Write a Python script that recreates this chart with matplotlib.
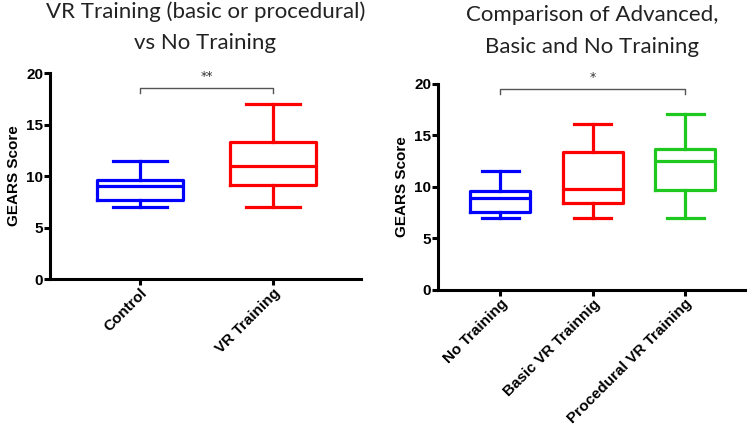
import matplotlib.pyplot as plt

# Left panel: control vs VR training
left_labels = ["Control", "VR Training"]
left_whislo = [7.0, 7.0]
left_q1 = [7.65, 9.15]
left_med = [9.0, 11.0]
left_q3 = [9.65, 13.35]
left_whishi = [11.5, 17.0]
left_colors = ["#0000ff", "#ff0000"]
left_title = ["VR Training (basic or procedural)", "vs No Training"]

# Right panel: no / basic / procedural training
right_labels = ["No Training", "Basic VR Trainnig", "Procedural VR Training"]
right_whislo = [7.0, 7.0, 7.0]
right_q1 = [7.6, 8.4, 9.65]
right_med = [8.95, 9.8, 12.5]
right_q3 = [9.6, 13.35, 13.7]
right_whishi = [11.5, 16.1, 17.1]
right_colors = ["#0000ff", "#ff0000", "#1ec81e"]
right_title = ["Comparison of Advanced,", "Basic and No Training"]

TITLE_FONT = ["Lato", "DejaVu Sans"]
BOLD_FONT = ["Liberation Sans", "DejaVu Sans"]
W, H = 749, 432


def _stats(labels, lo, q1, med, q3, hi):
    return [dict(label=l, whislo=a, q1=b, med=c, q3=d, whishi=e, fliers=[])
            for l, a, b, c, d, e in zip(labels, lo, q1, med, q3, hi)]


def _panel(fig, ax, stats, colors, title, title_y, xlim, bracket, star):
    lw = 2.3
    bp = ax.bxp(stats, positions=range(len(stats)), widths=0.65,
                showfliers=False, patch_artist=False)
    for i, c in enumerate(colors):
        bp["boxes"][i].set(color=c, linewidth=lw)
        bp["medians"][i].set(color=c, linewidth=lw)
        for art in bp["whiskers"][2 * i:2 * i + 2]:
            art.set(color=c, linewidth=lw)
        for art in bp["caps"][2 * i:2 * i + 2]:
            x0, x1 = art.get_xdata()
            mid = (x0 + x1) / 2
            art.set(color=c, linewidth=lw, xdata=[mid - 0.2, mid + 0.2])

    ax.set_xlim(*xlim)
    ax.set_ylim(0, 20)
    ax.set_yticks([0, 5, 10, 15, 20])
    for s in ("top", "right"):
        ax.spines[s].set_visible(False)
    for s in ("left", "bottom"):
        ax.spines[s].set_linewidth(2.2)
    ax.tick_params(width=2.2, length=4, pad=1)
    ax.set_xticklabels([st["label"] for st in stats], rotation=45,
                       ha="right", rotation_mode="anchor",
                       fontfamily=BOLD_FONT, fontweight="bold", fontsize=11)
    for t in ax.get_yticklabels():
        t.set_fontfamily(BOLD_FONT)
        t.set_fontweight("bold")
        t.set_fontsize(11)
    ax.set_ylabel("GEARS Score", fontfamily=BOLD_FONT, fontweight="bold",
                  fontsize=11, labelpad=4)

    # two-line title, centred over the axes, placed by baseline in pixels
    pos = ax.get_position()
    xc = (pos.x0 + pos.x1) / 2
    for line, yb in zip(title, title_y):
        fig.text(xc, 1 - yb / H, line, ha="center", va="baseline",
                 fontfamily=TITLE_FONT, fontsize=16, color="#222222")

    # significance bracket
    xa, xb, yb = bracket
    ax.plot([xa, xa, xb, xb], [yb - 0.45, yb, yb, yb - 0.45],
            color="#555555", linewidth=1.0, clip_on=False)
    ax.text((xa + xb) / 2, yb + 0.5, star, ha="center", va="bottom",
            fontsize=9, color="#333333", clip_on=False)


def main():
    fig = plt.figure(figsize=(W / 100, H / 100), dpi=100)
    ax1 = fig.add_axes([0.0668, 0.354, 0.415, 0.477])
    ax2 = fig.add_axes([0.585, 0.329, 0.41, 0.477])

    _panel(fig, ax1, _stats(left_labels, left_whislo, left_q1, left_med,
                            left_q3, left_whishi),
           left_colors, left_title, (18, 49),
           (-0.677, 1.66), (0, 1, 18.5), "**")
    _panel(fig, ax2, _stats(right_labels, right_whislo, right_q1, right_med,
                            right_q3, right_whishi),
           right_colors, right_title, (21, 53),
           (-0.67, 2.65), (0, 2, 19.5), "*")

    fig.savefig("out.png", dpi=100)


if __name__ == "__main__":
    main()
